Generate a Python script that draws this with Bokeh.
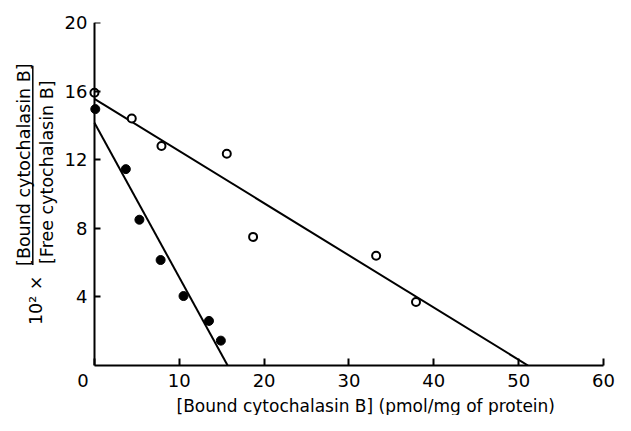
import math
from bokeh.plotting import figure
from bokeh.layouts import row
from bokeh.models import Range1d, FixedTicker, Label, LinearAxis, Title
from bokeh.embed import file_html
from bokeh.resources import INLINE

# Open circles
open_x = [0.0, 4.4, 7.9, 15.6, 18.7, 33.2, 37.9]
open_y = [15.9, 14.4, 12.8, 12.35, 7.5, 6.4, 3.7]
# Filled circles
filled_x = [0.1, 3.7, 5.3, 7.8, 10.5, 13.5, 14.9]
filled_y = [14.95, 11.45, 8.5, 6.15, 4.05, 2.6, 1.45]
# Fitted lines
fit_open_x = [0.0, 51.1]
fit_open_y = [15.55, 0.0]
fit_filled_x = [0.0, 15.7]
fit_filled_y = [14.15, 0.0]

x_ticks = [0, 10, 20, 30, 40, 50, 60]
y_ticks = [4, 8, 12, 16, 20]
x_title = "[Bound cytochalasin B] (pmol/mg of protein)"
y_numerator = "[Bound cytochalasin B]"
y_denominator = "[Free cytochalasin B]"
y_factor = "10² ×"

FONT = "DejaVu Sans"
H = 415
LEFT_W = 58
TOP = 22
BOTTOM = 45


def style_axis(ax):
    ax.axis_line_width = 2
    ax.axis_line_color = "black"
    ax.major_tick_line_width = 2
    ax.major_tick_line_color = "black"
    ax.minor_tick_line_color = None
    ax.major_tick_out = 0
    ax.major_label_text_font = FONT
    ax.major_label_text_font_size = "18px"
    ax.major_label_text_color = "black"


# ---- main plot ----
p = figure(width=557, height=H, x_range=Range1d(-0.7, 60), y_range=Range1d(0, 20),
           output_backend="svg", toolbar_location=None,
           min_border_left=30, min_border_right=12, min_border_top=TOP, min_border_bottom=BOTTOM)
p.outline_line_color = None
p.grid.visible = False

xa = p.xaxis[0]
style_axis(xa)
xa.ticker = FixedTicker(ticks=x_ticks)
xa.bounds = (0, 60)
xa.major_label_overrides = {0: "0\u00a0\u00a0\u00a0\u00a0"}
xa.major_tick_in = 7
xa.major_label_standoff = 4

# y axis labels (at frame edge), line and ticks hidden
ya = p.yaxis[0]
style_axis(ya)
ya.ticker = FixedTicker(ticks=y_ticks)
ya.axis_line_color = None
ya.major_tick_line_color = None
ya.major_tick_in = 0
ya.major_label_standoff = 1

# y axis line and ticks placed exactly at x = 0 (no labels of its own)
ya2 = LinearAxis(ticker=FixedTicker(ticks=y_ticks), fixed_location=0)
style_axis(ya2)
ya2.major_tick_in = 6
ya2.major_label_overrides = {t: "" for t in y_ticks}
ya2.major_label_standoff = 0
p.add_layout(ya2, "left")

p.line(fit_open_x, fit_open_y, line_width=2, line_color="black")
p.line(fit_filled_x, fit_filled_y, line_width=2, line_color="black")
p.scatter(open_x, open_y, marker="circle", size=8, fill_color="white",
          line_color="black", line_width=2)
p.scatter(filled_x, filled_y, marker="circle", size=9, fill_color="black",
          line_color="black")

# x title below the axis
p.add_layout(Title(text=x_title, align="left", offset=88, standoff=0,
                   text_font=FONT, text_font_size="17px", text_font_style="normal",
                   text_color="black"), "below")

# ---- left strip: stacked-fraction y title ----
# frame spans canvas rows TOP..H-BOTTOM; data y = H - canvas_y
left = figure(width=LEFT_W, height=H, x_range=Range1d(0, LEFT_W),
              y_range=Range1d(BOTTOM, H - TOP),
              output_backend="svg", toolbar_location=None,
              x_axis_location=None, y_axis_location=None,
              min_border=0, min_border_left=0, min_border_right=0,
              min_border_top=TOP, min_border_bottom=BOTTOM)
left.outline_line_color = None
left.grid.visible = False
for txt, cx, start in ((y_numerator, 23, 269),
                       (y_denominator, 46, 267),
                       (y_factor, 35, 329)):
    left.add_layout(Label(x=cx, y=H - start, text=txt, angle=math.pi / 2, text_font=FONT,
                          text_font_size="17.5px", text_align="left",
                          text_baseline="middle", text_color="black"))
left.line([32.3, 32.3], [H - 268, H - 66], line_width=1.5, line_color="black")

layout = row(left, p, spacing=0)
open("out.html", "w").write(file_html(layout, INLINE))
